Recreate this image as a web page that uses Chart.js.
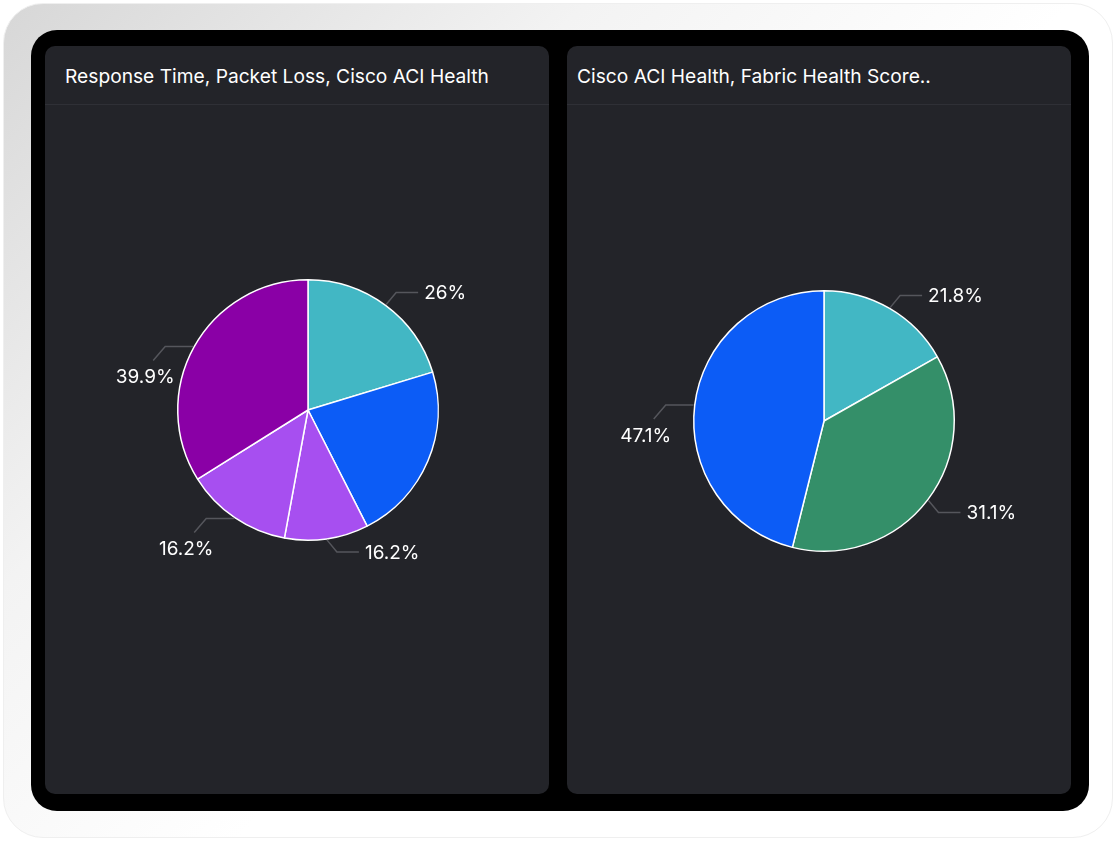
<!DOCTYPE html>
<html>
<head>
<meta charset="utf-8">
<script src="https://cdn.jsdelivr.net/npm/chart.js@4.4.1/dist/chart.umd.min.js"></script>
<style>
  html, body { margin: 0; padding: 0; background: #fff; }
  body { width: 1120px; height: 841px; position: relative; overflow: hidden; font-family: Inter, "Noto Sans", sans-serif; }
  .frame {
    position: absolute; left: 3px; top: 3px; width: 1110px; height: 835px;
    border-radius: 40px; box-sizing: border-box;
    border: 1px solid #efefef;
    background: linear-gradient(135deg, #d7d7d7 0%, #f3f3f3 30%, #ffffff 55%);
  }
  .device {
    position: absolute; left: 31px; top: 30px; width: 1058px; height: 781px;
    background: #000; border-radius: 26px;
  }
  .panel {
    position: absolute; top: 46px; width: 504px; height: 748px;
    background: #232429; border-radius: 10px; overflow: hidden;
  }
  .panel .head {
    height: 59px; border-bottom: 1px solid #2f3036; box-sizing: border-box;
    color: #fff; font-size: 19.2px; line-height: 60px; padding-left: 20px;
    white-space: nowrap;
  }
  .panel .body { position: absolute; left: 0; top: 60px; width: 504px; height: 688px; }
</style>
</head>
<body>
<div class="frame"></div>
<div class="device"></div>
<div class="panel" style="left:45px">
  <div class="head">Response Time, Packet Loss, Cisco ACI Health</div>
  <div class="body"><canvas id="leftChart"></canvas></div>
</div>
<div class="panel" style="left:567px">
  <div class="head" style="padding-left:10px">Cisco ACI Health, Fabric Health Score..</div>
  <div class="body"><canvas id="rightChart"></canvas></div>
</div>
<script>
// left pie: slice shares, label texts as printed
var leftNames = ["Series 1", "Series 2", "Series 3", "Series 4", "Series 5"];
var leftValues = [20.3, 22.2, 10.4, 13.2, 33.9];
var leftLabelText = ["26%", null, "16.2%", "16.2%", "39.9%"];
var leftColors = ["#42b7c4", "#0c5cf6", "#a74ff0", "#a74ff0", "#8a00a6"];

// right pie
var rightNames = ["Series 1", "Series 2", "Series 3"];
var rightValues = [16.8, 37.1, 46.1];
var rightLabelText = ["21.8%", "31.1%", "47.1%"];
var rightColors = ["#42b7c4", "#348f69", "#0c5cf6"];

// leader lines + percentage labels outside the pie
// right half: short diagonal then horizontal, text after it
// left half: horizontal then diagonal down, text centred under it
var outsideLabels = {
  id: "outsideLabels",
  afterDatasetsDraw: function (chart, args, opts) {
    var c = chart.ctx;
    var texts = opts.texts || [];
    chart.getDatasetMeta(0).data.forEach(function (arc, i) {
      if (!texts[i]) return;
      var p = arc.getProps(["x", "y", "startAngle", "endAngle", "outerRadius"], true);
      var mid = (p.startAngle + p.endAngle) / 2;
      var cos = Math.cos(mid), sin = Math.sin(mid);
      var x0 = p.x + (p.outerRadius + 1) * cos, y0 = p.y + (p.outerRadius + 1) * sin;
      var x1, y1, x2, y2, tx, ty, align;
      if (cos >= 0) {
        x1 = x0 + 10; y1 = y0 + (sin < 0 ? -12 : 12);
        x2 = x1 + 22; y2 = y1;
        tx = x2 + 6; ty = y2 + 1; align = "left";
      } else {
        x1 = x0 - 28; y1 = y0;
        x2 = x1 - 12; y2 = y1 + 14;
        tx = x2 - 8; ty = y2 + 17; align = "center";
      }
      c.save();
      c.strokeStyle = "#55565c";
      c.lineWidth = 1.5;
      c.beginPath();
      c.moveTo(x0, y0);
      c.lineTo(x1, y1);
      c.lineTo(x2, y2);
      c.stroke();
      c.fillStyle = "#ffffff";
      c.font = "19px Inter, 'Noto Sans', sans-serif";
      c.textAlign = align;
      c.textBaseline = "middle";
      c.fillText(texts[i], tx, ty);
      c.restore();
    });
  }
};

function makePie(id, names, values, colors, texts, pad) {
  var ctx = document.getElementById(id).getContext("2d");
  return new Chart(ctx, {
    type: "pie",
    data: {
      labels: names,
      datasets: [{
        data: values,
        backgroundColor: colors,
        borderColor: "#ffffff",
        borderWidth: 1.5
      }]
    },
    options: {
      responsive: true,
      maintainAspectRatio: false,
      animation: false,
      layout: { padding: pad },
      plugins: {
        legend: { display: false },
        tooltip: { enabled: false },
        outsideLabels: { texts: texts }
      }
    },
    plugins: [outsideLabels]
  });
}

makePie("leftChart", leftNames, leftValues, leftColors, leftLabelText,
  { left: 132, right: 110, top: 173, bottom: 253 });
makePie("rightChart", rightNames, rightValues, rightColors, rightLabelText,
  { left: 126, right: 116, top: 184, bottom: 242 });
</script>
</body>
</html>
